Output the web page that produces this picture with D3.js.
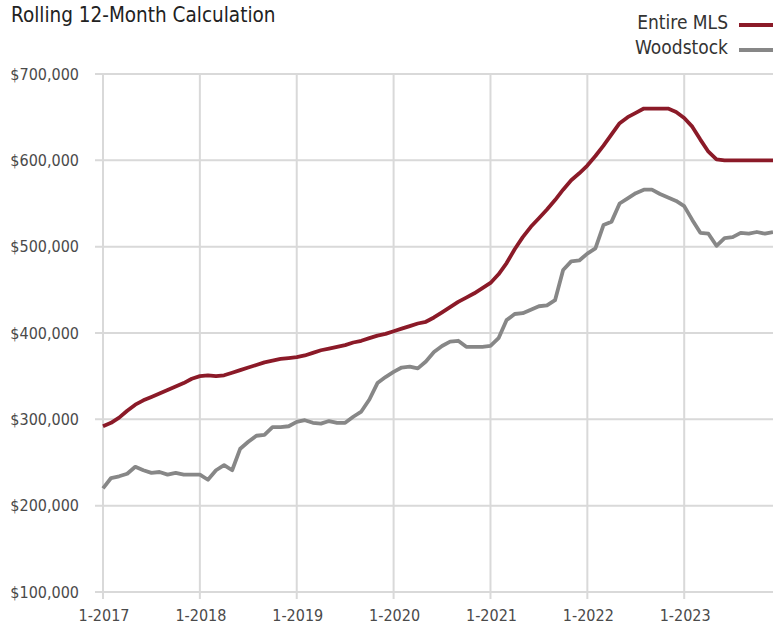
<!DOCTYPE html>
<html>
<head>
<meta charset="utf-8">
<script src="https://cdn.jsdelivr.net/npm/d3@7"></script>
<style>
  body { margin: 0; background: #fff; }
  svg { display: block; font-family: "Liberation Sans Narrow", "DejaVu Sans Condensed", "Roboto", sans-serif; }
</style>
</head>
<body>
<div id="chart"></div>
<script>
// monthly values, Jan 2017 .. Dec 2023 (in $)
const startYear = 2017;
const entireMLS = [
  292, 296, 302, 310, 317, 322, 326, 330, 334, 338, 342, 347,
  350, 351, 350, 351, 354, 357, 360, 363, 366, 368, 370, 371,
  372, 374, 377, 380, 382, 384, 386, 389, 391, 394, 397, 399,
  402, 405, 408, 411, 413, 418, 424, 430, 436, 441, 446, 452,
  458, 468, 481, 497, 511, 523, 533, 543, 554, 566, 577, 585,
  594, 605, 617, 630, 643, 650, 655, 660, 660, 660, 660, 656,
  649, 639, 624, 610, 601, 600, 600, 600, 600, 600, 600, 600
].map(v => v * 1000);
const woodstock = [
  220, 232, 234, 237, 245, 241, 238, 239, 236, 238, 236, 236,
  236, 230, 241, 247, 241, 266, 274, 281, 282, 291, 291, 292,
  297, 299, 296, 295, 298, 296, 296, 303, 309, 323, 342, 349,
  355, 360, 361, 359, 367, 378, 385, 390, 391, 384, 384, 384,
  385, 394, 415, 422, 423, 427, 431, 432, 438, 473, 483, 484,
  492, 498, 525, 529, 550, 556, 562, 566, 566, 561, 557, 553,
  547, 531, 516, 515, 501, 510, 511, 516, 515, 517, 515, 517
].map(v => v * 1000);
const yTicks = [100000, 200000, 300000, 400000, 500000, 600000, 700000];
const xTicks = [0, 12, 24, 36, 48, 60, 72];
const seriesNames = ["Entire MLS", "Woodstock"];
const seriesColors = ["#8b1a28", "#878787"];

const width = 773, height = 627;
const margin = { top: 74, left: 103, right: 0, bottom: 35 };

const svg = d3.select('#chart').append('svg')
  .attr('width', width)
  .attr('height', height);

const x = d3.scaleLinear()
  .domain([0, 83])
  .range([margin.left, width - margin.right]);
const y = d3.scaleLinear()
  .domain([100000, 700000])
  .range([height - margin.bottom, margin.top]);

// grid
svg.append('g')
  .selectAll('line')
  .data(yTicks)
  .enter().append('line')
  .attr('x1', margin.left - 8).attr('x2', width)
  .attr('y1', d => y(d)).attr('y2', d => y(d))
  .attr('stroke', '#d9d9d9').attr('stroke-width', 2);

svg.append('g')
  .selectAll('line')
  .data(xTicks)
  .enter().append('line')
  .attr('x1', d => x(d)).attr('x2', d => x(d))
  .attr('y1', margin.top).attr('y2', y(100000) + 7)
  .attr('stroke', '#d9d9d9').attr('stroke-width', 2);

// axis labels
const fmt = d3.format(',');
svg.append('g')
  .selectAll('text')
  .data(yTicks)
  .enter().append('text')
  .attr('x', 79).attr('y', d => y(d) + 5.5)
  .attr('text-anchor', 'end')
  .attr('font-size', 16)
  .attr('fill', '#4a4a4a')
  .text(d => '$' + fmt(d));

svg.append('g')
  .selectAll('text')
  .data(xTicks)
  .enter().append('text')
  .attr('x', d => x(d) + 1).attr('y', 621)
  .attr('text-anchor', 'middle')
  .attr('font-size', 16)
  .attr('fill', '#4a4a4a')
  .text(d => '1-' + (startYear + d / 12));

// lines
const line = d3.line()
  .x((d, i) => x(i))
  .y(d => y(d));

[entireMLS, woodstock].forEach((s, i) => {
  svg.append('path')
    .datum(s)
    .attr('fill', 'none')
    .attr('stroke', seriesColors[i])
    .attr('stroke-width', 3.8)
    .attr('stroke-linejoin', 'round')
    .attr('d', line);
});

// title
svg.append('text')
  .attr('x', 11).attr('y', 22)
  .attr('font-size', 20.5)
  .attr('fill', '#222')
  .text('Rolling 12-Month Calculation');

// legend
seriesNames.forEach((n, i) => {
  const ly = 29 + i * 25;
  svg.append('text')
    .attr('x', 728).attr('y', ly)
    .attr('text-anchor', 'end')
    .attr('font-size', 19)
    .attr('fill', '#333')
    .text(n);
  svg.append('line')
    .attr('x1', 739).attr('x2', width)
    .attr('y1', ly - 4).attr('y2', ly - 4)
    .attr('stroke', seriesColors[i])
    .attr('stroke-width', 3.8);
});
</script>
</body>
</html>
